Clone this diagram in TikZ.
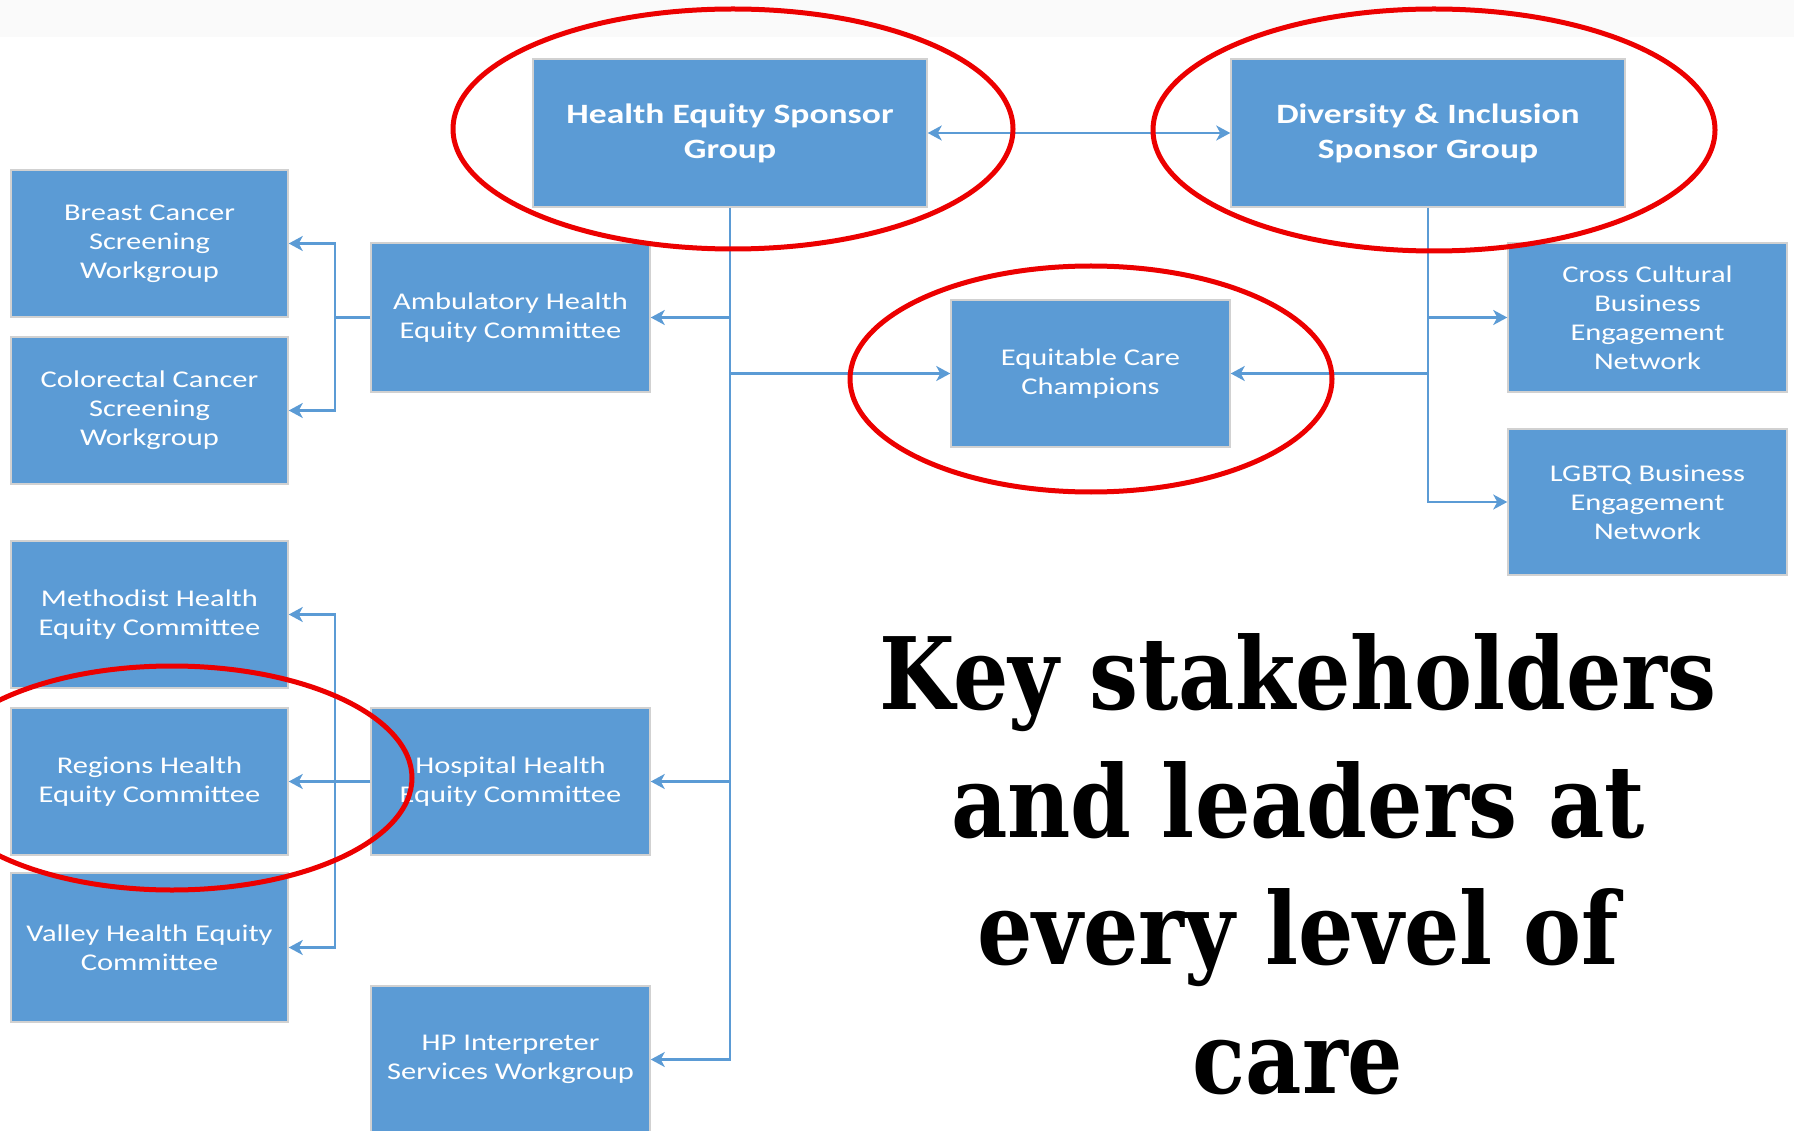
\documentclass[tikz,border=0pt]{standalone}
\usepackage{fontspec}
\usepackage{graphicx}
\usetikzlibrary{arrows.meta}

% Box labels: a Calibri-metric sans, set wide
\newfontfamily\boxfont[FakeStretch=1.27]{Carlito}
% Headline: a slab-like serif
\newfontfamily\slabfont{DejaVu Serif}

\definecolor{boxblue}{RGB}{91,155,213}
\definecolor{linkblue}{RGB}{91,155,213}
\definecolor{ringred}{RGB}{236,0,0}
\definecolor{bandgray}{RGB}{250,250,250}

% width of the longest headline line, used to set the headline's horizontal scale
\newsavebox\widestline
\sbox\widestline{\slabfont\bfseries\fontsize{100}{120}\selectfont Key stakeholders}

\begin{document}
\begin{tikzpicture}[x=1pt,y=-1pt,
  unit/.style={rectangle, fill=boxblue, draw=black!18, line width=1.5pt,
    text=white, align=center, inner sep=0pt,
    font=\boxfont\fontsize{24}{29}\selectfont,
    minimum width=279pt, minimum height=148pt},
  leftunit/.style={unit, minimum width=277pt},
  sponsor/.style={unit, minimum width=394pt,
    font=\boxfont\bfseries\fontsize{28}{35}\selectfont},
  link/.style={draw=linkblue, line width=2.2pt},
  tip/.style={-{Stealth[length=14pt,width=15pt,inset=4pt]}},
  ring/.style={draw=ringred, line width=5pt},
  headline/.style={anchor=base, inner sep=0pt,
    font=\slabfont\bfseries\fontsize{100}{120}\selectfont}
]
\pgfmathsetmacro\headstretch{837/\the\wd\widestline}

\useasboundingbox (0,0) rectangle (1794,1131);
\clip (0,0) rectangle (1794,1131);
\fill[white] (0,0) rectangle (1794,1131);
\fill[bandgray] (0,0) rectangle (1794,37);

% ---- units ----
\node[sponsor] (hes) at (730,133) {Health Equity Sponsor\\Group};
\node[sponsor] (di)  at (1428,133) {Diversity \& Inclusion\\Sponsor Group};

\node[leftunit, minimum height=147pt] (breast) at (149.5,243.5) {Breast Cancer\\Screening\\Workgroup};
\node[leftunit, minimum height=147pt] (colo)   at (149.5,410.5) {Colorectal Cancer\\Screening\\Workgroup};
\node[unit, minimum height=149pt] (amb) at (510.5,317.5) {Ambulatory Health\\Equity Committee};

\node[unit, minimum height=147pt] (ecc) at (1090.5,373.5) {Equitable Care\\Champions};
\node[unit, minimum height=149pt] (cross) at (1647.5,317.5) {Cross Cultural\\Business\\Engagement\\Network};
\node[unit, minimum height=146pt] (lgbt)  at (1647.5,502) {LGBTQ Business\\Engagement\\Network};

\node[leftunit, minimum height=147pt] (meth)    at (149.5,614.5) {Methodist Health\\Equity Committee};
\node[leftunit, minimum height=147pt] (regions) at (149.5,781.5) {Regions Health\\Equity Committee};
\node[leftunit, minimum height=149pt] (valley)  at (149.5,947.5) {Valley Health Equity\\Committee};
\node[unit, minimum height=147pt] (hosp) at (510.5,781.5) {Hospital Health\\Equity Committee};
\node[unit, minimum height=147pt] (hp)   at (510.5,1059.5) {HP Interpreter\\Services Workgroup};

% ---- connectors ----
\draw[link,{Stealth[length=14pt,width=15pt,inset=4pt]}-{Stealth[length=14pt,width=15pt,inset=4pt]}]
  (hes.east) -- (di.west);

\draw[link,tip] (hes.south) |- (hp.east);
\draw[link,tip] (hes.south |- amb.east) -- (amb.east);
\draw[link,tip] (hes.south |- hosp.east) -- (hosp.east);
\draw[link,tip] (hes.south |- ecc.west) -- (ecc.west);

\draw[link,tip] (di.south) |- (lgbt.west);
\draw[link,tip] (di.south |- cross.west) -- (cross.west);
\draw[link,tip] (di.south |- ecc.east) -- (ecc.east);

\coordinate (ajoin) at ([xshift=-35pt]amb.west);
\draw[link] (amb.west) -- (ajoin);
\draw[link,tip] (ajoin) |- (breast.east);
\draw[link,tip] (ajoin) |- (colo.east);

\coordinate (hjoin) at ([xshift=-35pt]hosp.west);
\draw[link,tip] (hosp.west) -- (regions.east);
\draw[link,tip] (hjoin) |- (meth.east);
\draw[link,tip] (hjoin) |- (valley.east);

% ---- headline ----
\node[headline] (h1) at (1298,709)  {\scalebox{\headstretch}[1]{Key stakeholders}};
\node[headline] (h2) at (1298,837)  {\scalebox{\headstretch}[1]{and leaders at}};
\node[headline] (h3) at (1298,964)  {\scalebox{\headstretch}[1]{every level of}};
\node[headline] (h4) at (1298,1093) {\scalebox{\headstretch}[1]{care}};

% ---- highlight rings ----
\draw[ring] (733,129)  ellipse [x radius=280pt, y radius=120pt];
\draw[ring] (1434,130) ellipse [x radius=281pt, y radius=121pt];
\draw[ring] (1091,379) ellipse [x radius=241pt, y radius=113pt];
\draw[ring] (172,778)  ellipse [x radius=240pt, y radius=112pt];
\end{tikzpicture}
\end{document}
